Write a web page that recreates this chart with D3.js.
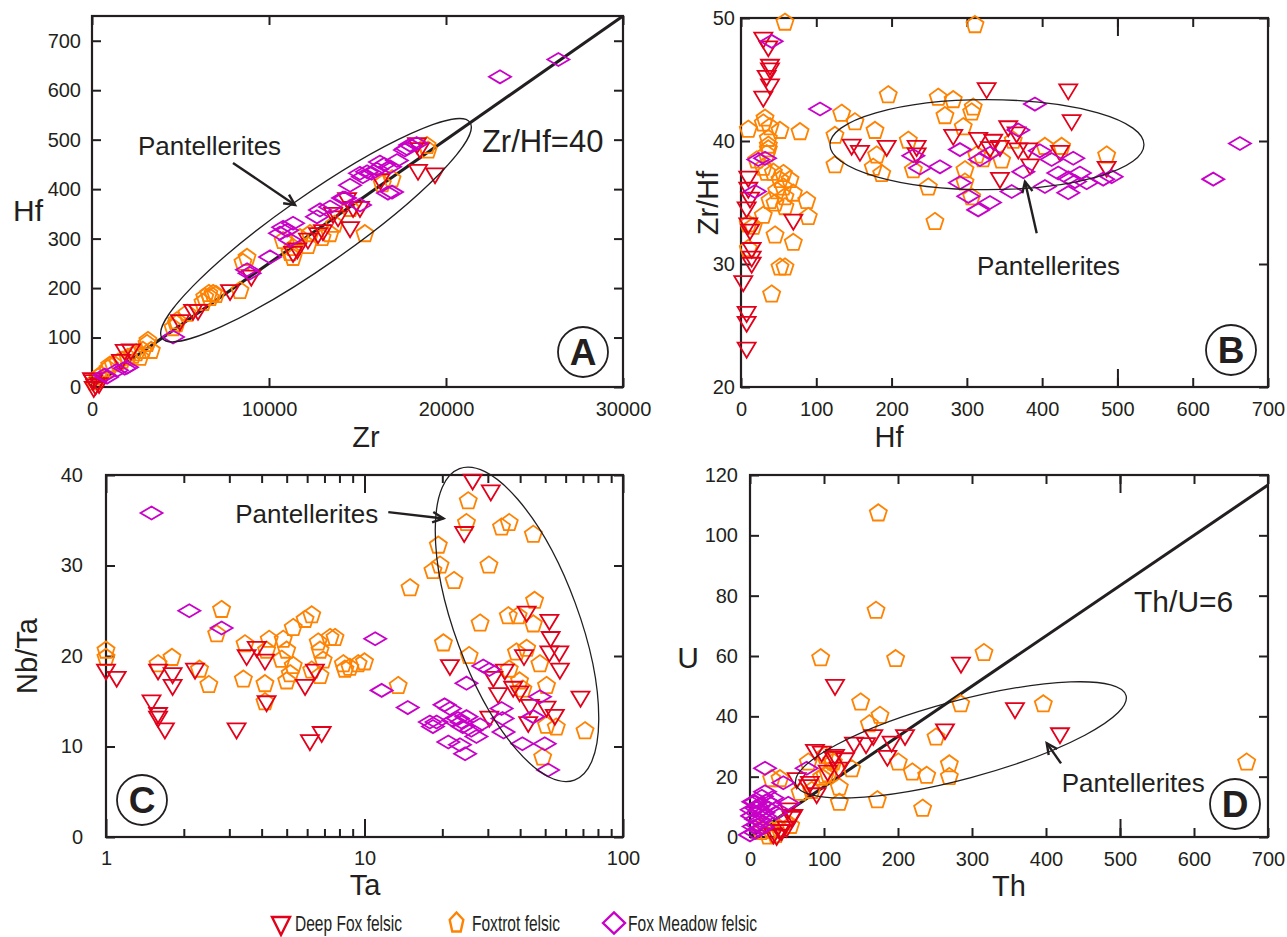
<!DOCTYPE html>
<html><head><meta charset="utf-8">
<script src="https://cdn.jsdelivr.net/npm/d3@7"></script>
<style>
body{margin:0;background:#fff}
svg{display:block}
text{font-family:"Liberation Sans",Arial,Helvetica,sans-serif;fill:#231f20}
</style>
</head><body>
<svg id="c" width="1287" height="937"></svg>
<script>
// ---------------- DATA ----------------
// Panel A: Zr vs Hf
const A_deepFox = [[18360,493],[18530,483],[18420,439],[19380,432],[14750,364],[14410,382],[15140,364],[14580,323],[13620,352],[13050,317],[12770,311],[11360,273],[11600,280],[7800,196],[5990,156],[5710,156],[4970,135],[1850,75],[2200,76],[1640,55],[60,14],[200,5],[100,0],[0,18],[400,8],[13900,345],[16300,420],[12200,300],[9000,225]];
const A_foxtrot = [[18930,489],[18990,480],[16950,422],[16400,412],[15420,311],[13450,311],[13000,303],[12200,287],[11360,263],[14580,362],[10800,297],[11750,303],[12320,311],[11360,283],[11190,273],[8760,263],[8530,253],[8360,196],[6840,190],[6670,182],[7000,188],[6270,172],[5370,150],[4800,135],[4580,121],[4770,129],[3110,89],[2880,75],[2710,61],[3160,95],[3350,75],[2030,61],[1470,51],[1190,48],[900,38],[340,21],[150,11],[6370,183],[6600,190],[1700,55],[2300,65],[1000,45],[500,25],[2500,70],[13700,330]];
const A_foxMeadow = [[23050,627],[26350,662],[17780,482],[18340,492],[17970,489],[17680,479],[16270,455],[16840,445],[16500,450],[15540,435],[15300,425],[16100,440],[15800,432],[14580,408],[16950,394],[14180,382],[15140,368],[12880,358],[12710,344],[11360,331],[11020,317],[10620,311],[10800,323],[11190,297],[10060,263],[8760,237],[8900,230],[4580,101],[1410,34],[850,20],[1980,40],[1850,38],[720,24],[13450,364],[14300,382],[15140,432],[17230,458],[16720,392]];
const A_ratioLine = [[0,0],[30000,750]];
const A_xTicks = [0,10000,20000,30000];
const A_yTicks = [0,100,200,300,400,500,600,700];

// Panel B: Hf vs Zr/Hf
const B_deepFox = [[29.6,48.4],[36.3,47.7],[38.5,46.2],[38.5,45.9],[34.1,45.3],[38.5,44.6],[29.6,43.6],[9.7,37.1],[9.7,36.2],[12,35.4],[7.5,34.6],[9.7,33.3],[12,32.8],[14.2,31.3],[14.2,30.6],[14.2,30.1],[3,28.6],[7.5,26.1],[7.5,25.3],[7.5,23.2],[69.5,33.6],[147,39.7],[158,39.2],[193.5,39.6],[233.3,39.6],[233.3,39.0],[281.9,40.5],[315.1,40.25],[335,40.1],[330.7,39.5],[326.3,44.3],[434.7,44.2],[439.2,41.7],[355,41.2],[366.1,40.7],[344,39.6],[368.3,39.4],[381.5,39.4],[423.6,39.2],[384,38.1],[485.7,37.9],[344,37.0]];
const B_foxtrot = [[58.4,49.7],[310.8,49.5],[9.7,41.0],[31.9,41.9],[29.6,41.5],[38.5,41.2],[51.8,40.9],[36.3,40.25],[36.3,39.7],[36.3,39.4],[34.1,39.0],[20.8,38.5],[29.6,37.9],[34.1,37.5],[43,37.5],[56.3,37.4],[51.8,36.9],[65.1,36.9],[56.3,36.3],[47.4,36.0],[69.5,35.8],[58.4,35.5],[38.5,35.2],[45.2,35.0],[58.4,34.7],[87.3,35.2],[89.4,33.9],[29.6,34.0],[9.7,33.3],[16.3,33.1],[45.2,32.4],[69.5,31.8],[9.7,31.3],[51.8,29.8],[58.4,29.8],[40.7,27.6],[78.4,40.8],[124.8,40.5],[124.8,38.1],[133.7,42.3],[151.4,41.6],[178,40.9],[180.2,38.9],[175.7,37.9],[186.9,37.4],[195.6,43.8],[222.2,40.1],[228.9,37.7],[248.8,36.3],[257.6,33.5],[262,43.6],[270.9,42.1],[281.9,43.4],[295.2,41.2],[297.5,37.7],[297.5,36.7],[308.5,42.8],[306.4,42.4],[313,38.9],[306.4,35.5],[361.6,40.1],[403.7,39.6],[425.9,39.6],[346.2,38.5],[485.7,38.9],[321.4,38.6]];
const B_foxMeadow = [[40.7,48.1],[105,42.6],[23,38.5],[31.9,38.6],[18.6,35.9],[228.9,38.8],[237.7,37.8],[264.3,37.9],[290.8,39.3],[290.8,36.6],[301.9,35.5],[315.1,34.4],[330.7,35.0],[317.4,38.5],[330.7,39.0],[390.4,43.0],[368.3,40.9],[375,37.5],[397,39.2],[412.6,38.5],[441.3,38.6],[421.4,37.4],[434.7,37.0],[450.2,37.4],[443.6,36.7],[459.1,36.6],[481.1,36.9],[492.3,37.1],[403.7,36.3],[434.7,35.8],[359.5,35.9],[627.3,36.9],[662.7,39.8]];
const B_xTicks = [0,100,200,300,400,500,600,700];
const B_yTicks = [20,30,40,50];

// Panel C: Ta vs Nb/Ta
const C_deepFox = [[1.0,18.5],[1.10,17.7],[1.50,15.1],[1.59,13.7],[1.59,13.3],[1.69,12.0],[1.59,18.5],[1.81,18.1],[1.81,16.8],[2.21,18.6],[3.20,12.0],[3.50,20.1],[3.83,21.0],[4.12,19.6],[4.18,15.0],[5.89,16.8],[6.15,10.7],[6.83,11.6],[6.43,18.5],[26.2,39.5],[30.8,38.3],[24.3,33.7],[21.4,19.0],[42.4,24.9],[51.9,24.0],[52.5,22.1],[51.9,20.5],[56.7,20.5],[57,18.6],[41.4,20.1],[34.9,18.5],[31.5,17.7],[32.9,15.9],[37.6,16.6],[39.8,16.1],[43.6,14.6],[50.6,14.4],[54.5,13.5],[43,12.7],[30.4,13.3],[68.5,15.5]];
const C_foxtrot = [[1.0,20.7],[1.0,19.9],[1.59,19.2],[1.80,19.9],[2.80,25.2],[2.68,22.5],[2.30,18.6],[2.50,16.9],[3.45,21.4],[3.40,17.5],[4.12,17.0],[4.12,15.0],[4.18,20.7],[4.28,21.9],[4.85,21.9],[5.0,20.7],[4.78,19.7],[5.0,17.3],[5.16,18.1],[5.30,19.0],[5.30,23.2],[5.89,24.1],[6.25,24.6],[6.62,21.6],[6.73,20.7],[6.92,19.6],[6.25,18.5],[6.73,17.9],[7.36,22.1],[25.2,37.2],[24.8,34.8],[33.9,34.3],[36.3,34.8],[45.0,33.5],[19.3,32.3],[18.4,29.5],[19.6,30.1],[22.2,28.4],[30.3,30.1],[15.0,27.6],[45.5,26.2],[36.0,24.5],[39.3,24.5],[45,23.6],[28.0,23.7],[20.2,21.5],[25.4,20.1],[38.7,20.5],[42.4,20.9],[47.7,19.2],[36.3,18.6],[39.8,17.3],[41,16.4],[50.6,16.8],[50.6,12.4],[55.2,12.2],[71.3,11.8],[48.9,8.9],[13.5,16.8],[7.69,22.1],[8.28,19.2],[8.78,18.8],[9.45,19.2],[10.0,19.4],[8.4,18.6]];
const C_foxMeadow = [[1.50,35.8],[2.10,25.0],[2.80,23.1],[11.0,21.9],[11.65,16.2],[14.7,14.3],[28.8,18.9],[30.4,18.5],[24.8,17.0],[19.0,12.7],[18.4,12.2],[20.4,14.6],[21.4,14.2],[22.0,12.9],[23.0,13.1],[23.7,12.7],[24.8,13.3],[24.0,12.2],[25.9,11.8],[28.0,12.4],[27.1,11.1],[21.1,10.5],[23.4,10.2],[24.5,9.2],[33.9,14.2],[34.2,13.1],[34.5,11.6],[40.8,10.3],[49.8,10.3],[47.7,15.5],[45,13.3],[51.3,7.4],[17.9,12.7]];
const C_xTicks = [1,10,100];
const C_xMinor = [2,3,4,5,6,7,8,9,20,30,40,50,60,70,80,90];
const C_yTicks = [0,10,20,30,40];

// Panel D: Th vs U
const D_deepFox = [[114.9,50.4],[285.1,57.8],[263.5,35.7],[209.5,33.8],[191.4,31.6],[166.6,33.8],[156.8,31.1],[140.5,31.3],[185.6,26.9],[87.8,28.9],[96.9,28.3],[114.9,27.2],[128.4,26.1],[120,23],[105,22],[63.1,19.5],[78.8,17.2],[90.1,14.5],[51.8,9.5],[58.5,7.3],[40.5,2.3],[31.5,1.2],[358.1,42.7],[418.9,34.4],[112.6,26.6],[81,18.3],[56.3,6.7],[42.8,2.3],[36,0.7],[49.5,3.4]];
const D_foxtrot = [[173.4,107.6],[170.3,75.3],[95.5,59.6],[196.8,59.3],[316.2,61.3],[149.5,44.9],[175.7,40.5],[161.3,37.7],[284.7,44.3],[251.4,33.3],[269.4,24.4],[269.4,20.2],[200.4,25.0],[219.3,21.7],[238.8,20.6],[172.1,12.5],[233.3,9.7],[120.7,11.7],[120.7,16.7],[137.4,22.8],[78.8,25.0],[67.6,15.0],[112.6,25.0],[101.4,20.6],[96.9,20.0],[105.8,21.1],[110.4,25.5],[101.4,27.2],[29.3,19.5],[40.5,19.5],[396.4,44.3],[671.2,25.0],[83.4,15.6],[20,4],[29,2.3],[47,5.1],[35,1],[25,0.5],[55,4],[40,3],[15,2]];
const D_foxMeadow = [[20.3,22.8],[45,18.0],[20.3,15.0],[51.8,11.2],[76.6,22.8],[4.5,11.7],[0,0.7],[6.8,11.7],[11.2,10],[2.3,9],[13,8.7],[3,7],[8,6],[18,8],[14,5.5],[5,3.5],[12,2.4],[20,6.9],[25,9.5],[28,11],[30,13],[22,12],[16,13.5],[10,4],[7,1.5],[17,3.2],[35,8],[9,9.5],[15,11]];
const D_ratioLine = [[0,0],[700,116.67]];
const D_xTicks = [0,100,200,300,400,500,600,700];
const D_yTicks = [0,20,40,60,80,100,120];

const seriesNames = ["Deep Fox felsic","Foxtrot felsic","Fox Meadow felsic"];

// ---------------- DRAWING ----------------
const svg = d3.select("#c");
const COL = {deep:"#e2001a", fox:"#ff8200", mead:"#c800c8"};
const INK = "#231f20";

const shapes = {
  tri: "M-9,-5L9,-5L0,10Z",
  pent: (()=>{const r=9;let p=[];for(let k=0;k<5;k++){const a=(-90+72*k)*Math.PI/180;p.push([r*Math.cos(a),r*Math.sin(a)+0.8]);}return "M"+p.map(d=>d.map(v=>v.toFixed(2)).join(",")).join("L")+"Z";})(),
  dia: "M-11,0L0,-6.5L11,0L0,6.5Z"
};

function panel(cfg){
  const g = svg.append("g");
  const x = cfg.log ? d3.scaleLog().domain(cfg.xd).range([cfg.x0,cfg.x1]) : d3.scaleLinear().domain(cfg.xd).range([cfg.x0,cfg.x1]);
  const y = d3.scaleLinear().domain(cfg.yd).range([cfg.y1,cfg.y0]);
  const tk = 9;
  const fmt = d3.format("d");
  const style = sel => { sel.select(".domain").remove(); sel.selectAll("line").attr("stroke",INK).attr("stroke-width",2); sel.selectAll("text").attr("font-size",20).attr("fill",INK).style("font-family","'Liberation Sans',Arial,sans-serif"); };
  g.append("g").attr("transform",`translate(0,${cfg.y1})`).call(d3.axisBottom(x).tickValues(cfg.xt).tickFormat(fmt).tickSize(-(cfg.xMajorLen||tk)).tickSizeOuter(0).tickPadding(cfg.xPad)).call(style);
  g.append("g").attr("transform",`translate(0,${cfg.y0})`).call(d3.axisTop(x).tickValues(cfg.xt).tickFormat("").tickSize(-(cfg.xMajorLen||tk)).tickSizeOuter(0)).call(style);
  g.append("g").attr("transform",`translate(${cfg.x0},0)`).call(d3.axisLeft(y).tickValues(cfg.yt).tickFormat(fmt).tickSize(-tk).tickSizeOuter(0).tickPadding(cfg.yPad)).call(style);
  g.append("g").attr("transform",`translate(${cfg.x1},0)`).call(d3.axisRight(y).tickValues(cfg.yt).tickFormat("").tickSize(-tk).tickSizeOuter(0)).call(style);
  if(cfg.minor){
    g.append("g").attr("transform",`translate(0,${cfg.y1})`).call(d3.axisBottom(x).tickValues(cfg.minor).tickFormat("").tickSize(-8).tickSizeOuter(0)).call(style);
    g.append("g").attr("transform",`translate(0,${cfg.y0})`).call(d3.axisTop(x).tickValues(cfg.minor).tickFormat("").tickSize(-8).tickSizeOuter(0)).call(style);
  }
  if(cfg.longTicks){
    g.append("g").attr("transform",`translate(0,${cfg.y1})`).call(d3.axisBottom(x).tickValues(cfg.longTicks).tickFormat("").tickSize(-18).tickSizeOuter(0)).call(style);
    g.append("g").attr("transform",`translate(0,${cfg.y0})`).call(d3.axisTop(x).tickValues(cfg.longTicks).tickFormat("").tickSize(-18).tickSizeOuter(0)).call(style);
  }
  g.append("rect").attr("x",cfg.x0).attr("y",cfg.y0).attr("width",cfg.x1-cfg.x0).attr("height",cfg.y1-cfg.y0).attr("fill","none").attr("stroke",INK).attr("stroke-width",2.2);
  if(cfg.line){
    g.append("path").datum(cfg.line).attr("d",d3.line().x(d=>x(d[0])).y(d=>y(d[1]))).attr("stroke",INK).attr("stroke-width",3).attr("fill","none");
  }
  const sets = [[cfg.fox,"pent",COL.fox],[cfg.deep,"tri",COL.deep],[cfg.mead,"dia",COL.mead]];
  sets.forEach(([data,shp,col])=>{
    g.append("g").selectAll("path").data(data).join("path")
      .attr("d",shapes[shp]).attr("transform",d=>`translate(${x(d[0])},${y(d[1])})`)
      .attr("fill","none").attr("stroke",col).attr("stroke-width",1.8).attr("stroke-linejoin","miter");
  });
  const e = cfg.ell;
  g.append("ellipse").attr("cx",0).attr("cy",0).attr("rx",e.rx).attr("ry",e.ry)
    .attr("transform",`translate(${x(e.c[0])},${y(e.c[1])}) rotate(${e.rot})`)
    .attr("fill","none").attr("stroke",INK).attr("stroke-width",1.3);
  cfg.notes.forEach(n=>{
    g.append("text").attr("x",x(n.at[0])).attr("y",y(n.at[1])).attr("font-size",n.size).text(n.t);
  });
  const a = cfg.arrow;
  const x1=x(a.from[0]),y1=y(a.from[1]),x2=x(a.to[0]),y2=y(a.to[1]);
  const ang=Math.atan2(y2-y1,x2-x1), L=12, sp=0.45;
  g.append("line").attr("x1",x1).attr("y1",y1).attr("x2",x2).attr("y2",y2).attr("stroke",INK).attr("stroke-width",2.4);
  g.append("path").attr("d",`M${x2-L*Math.cos(ang-sp)},${y2-L*Math.sin(ang-sp)}L${x2},${y2}L${x2-L*Math.cos(ang+sp)},${y2-L*Math.sin(ang+sp)}`).attr("stroke",INK).attr("stroke-width",2.4).attr("fill","none");
  const cx = cfg.badge[0], cy = cfg.badge[1];
  g.append("circle").attr("cx",cx).attr("cy",cy).attr("r",25).attr("fill","none").attr("stroke",INK).attr("stroke-width",1.8);
  g.append("text").attr("x",cx).attr("y",cy+13).attr("text-anchor","middle").attr("font-size",37).attr("font-weight","bold").text(cfg.id);
  g.append("text").attr("x",cfg.xl[0]).attr("y",cfg.xl[1]).attr("text-anchor","middle").attr("font-size",29).text(cfg.xTitle);
  if(cfg.ylRot){
    g.append("text").attr("transform",`translate(${cfg.yl[0]},${cfg.yl[1]}) rotate(-90)`).attr("text-anchor","middle").attr("font-size",29).text(cfg.yTitle);
  } else {
    g.append("text").attr("x",cfg.yl[0]).attr("y",cfg.yl[1]).attr("text-anchor","middle").attr("font-size",30).text(cfg.yTitle);
  }
}

panel({id:"A",x0:92,x1:623,y0:16,y1:387,xd:[0,30000],yd:[0,750],xt:A_xTicks,yt:A_yTicks,xPad:15,yPad:11,
  deep:A_deepFox,fox:A_foxtrot,mead:A_foxMeadow,line:A_ratioLine,
  ell:{c:[12655,317],rx:188,ry:35,rot:-35},
  notes:[{t:"Pantellerites",at:[2600,469],size:26},{t:"Zr/Hf=40",at:[22030,475],size:31}],
  arrow:{from:[7966,453],to:[11470,368]},
  badge:[583,352],xTitle:"Zr",xl:[366,447],yTitle:"Hf",yl:[28,221],ylRot:false});

panel({id:"B",x0:741,x1:1268,y0:18,y1:387,xd:[0,700],yd:[20,50],xt:B_xTicks,yt:B_yTicks,xPad:15,yPad:6,longTicks:[500],
  deep:B_deepFox,fox:B_foxtrot,mead:B_foxMeadow,
  ell:{c:[326.7,39.7],rx:157,ry:45,rot:0},
  notes:[{t:"Pantellerites",at:[313.5,29.1],size:26}],
  arrow:{from:[392.8,32.5],to:[377.2,36.7]},
  badge:[1231,350],xTitle:"Hf",xl:[889,447],yTitle:"Zr/Hf",yl:[718,203],ylRot:true});

panel({id:"C",x0:106,x1:623,y0:475,y1:837,log:true,xd:[1,100],yd:[0,40],xt:C_xTicks,yt:C_yTicks,minor:C_xMinor,xMajorLen:18,xPad:14,yPad:23,
  deep:C_deepFox,fox:C_foxtrot,mead:C_foxMeadow,
  ell:{c:[38.9,23.5],rx:166,ry:62,rot:69.75},
  notes:[{t:"Pantellerites",at:[3.16,34.7],size:26}],
  arrow:{from:[12.36,35.9],to:[20.2,35.2]},
  badge:[142,800],xTitle:"Ta",xl:[365,895],yTitle:"Nb/Ta",yl:[37,656],ylRot:true});

panel({id:"D",x0:750,x1:1268,y0:475,y1:837,xd:[0,700],yd:[0,120],xt:D_xTicks,yt:D_yTicks,xPad:15,yPad:12,longTicks:[500],
  deep:D_deepFox,fox:D_foxtrot,mead:D_foxMeadow,line:D_ratioLine,
  ell:{c:[285,32.2],rx:171,ry:39,rot:-15},
  notes:[{t:"Pantellerites",at:[421.2,15.0],size:26},{t:"Th/U=6",at:[519,74.5],size:30}],
  arrow:{from:[420.3,24.4],to:[401,31.1]},
  badge:[1235,804],xTitle:"Th",xl:[1009,896],yTitle:"U",yl:[688,668],ylRot:false});

// legend
const leg = svg.append("g");
const legItems = [
  {name:seriesNames[0], d:"M-9,-8L9,-8L0,10Z", col:COL.deep, sx:281, sy:925, tx:295, w:107},
  {name:seriesNames[1], d:(()=>{let p=[];for(let k=0;k<5;k++){const a=(-90+72*k)*Math.PI/180;p.push([6.8*Math.cos(a)/0.95,10.5*Math.sin(a)+1]);}return "M"+p.map(d=>d.map(v=>v.toFixed(2)).join(",")).join("L")+"Z";})(), col:COL.fox, sx:456.5, sy:922, tx:472, w:88},
  {name:seriesNames[2], d:"M-11,0L0,-10.5L11,0L0,10.5Z", col:COL.mead, sx:614, sy:923, tx:628, w:129}
];
legItems.forEach(it=>{
  leg.append("path").attr("d",it.d).attr("transform",`translate(${it.sx},${it.sy})`).attr("fill","none").attr("stroke",it.col).attr("stroke-width",2.4);
  leg.append("text").attr("x",it.tx).attr("y",931).attr("font-size",22.5).attr("textLength",it.w).attr("lengthAdjust","spacingAndGlyphs").text(it.name);
});
</script>
</body></html>
